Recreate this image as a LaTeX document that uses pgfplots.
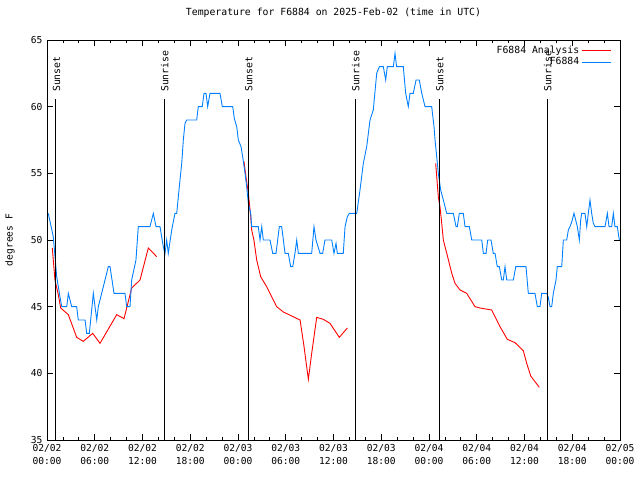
\documentclass[border=0pt]{standalone}
\usepackage{pgfplots}
\pgfplotsset{compat=1.18}
\usepackage{fontspec}
\setmainfont{DejaVu Sans Mono}
\definecolor{gblue}{RGB}{0,128,255}
\definecolor{gred}{RGB}{255,0,0}
\pgfplotstableread{
h v
0.67 49.4
0.79 48.5
1.00 47.0
1.42 45.9
1.72 44.9
2.68 44.4
3.73 42.7
4.56 42.4
5.74 43.0
6.66 42.25
8.76 44.4
9.68 44.1
10.64 46.4
11.69 47.0
12.73 49.4
13.79 48.75
}\redA
\pgfplotstableread{
h v
24.75 55.9
25.00 54.75
25.30 53.5
25.60 51.75
25.72 50.75
26.00 50.0
26.35 48.5
26.85 47.25
27.60 46.5
28.86 45.0
29.70 44.6
31.80 44.0
32.30 42.0
32.84 39.55
33.26 41.5
33.89 44.2
34.72 44.05
35.56 43.75
36.73 42.7
37.74 43.4
}\redB
\pgfplotstableread{
h v
48.84 55.75
49.17 53.25
49.38 52.5
49.60 51.25
49.80 50.0
50.23 49.0
50.86 47.5
51.27 46.75
51.90 46.25
52.74 46.0
53.78 45.0
54.41 44.9
55.88 44.75
56.93 43.5
57.84 42.55
58.81 42.3
59.85 41.7
60.28 40.75
60.78 39.8
61.86 38.95
}\redC
\pgfplotstableread{
h v
0.16 52
0.79 50.25
1.22 47.25
1.63 45.75
1.85 45
2.48 45
2.68 46
3.10 45
3.73 45
3.93 44
4.78 44
4.99 43
5.32 43
5.82 46
6.25 44
6.45 45
6.87 46
7.29 47
7.70 48
7.92 48
8.42 46
9.80 46
10.01 45
10.43 45
10.64 47
11.18 48.5
11.47 51
12.94 51
13.36 52
13.70 51
14.20 51
14.61 49.5
14.83 49
15.04 50
15.24 49
15.67 50.75
16.08 52
16.30 52
16.71 54.5
16.93 55.75
17.13 57.5
17.34 58.75
17.55 59
18.81 59
19.01 60
19.51 60
19.73 61
19.98 61
20.19 60
20.48 61
21.74 61
22.03 60
23.34 60
23.54 59.1
23.84 58.5
24.04 57.5
24.38 57
24.59 56.25
24.88 55
25.09 54
25.30 52.75
25.60 52
25.72 51
26.55 51
26.77 50
26.98 51
27.18 50
28.02 50
28.36 49
28.78 49
29.19 51
29.49 51
29.91 49
30.32 49
30.62 48
30.88 48
31.16 49
31.38 50
31.58 49
33.26 49
33.55 51
33.80 50
34.31 49
34.64 49
34.93 50
35.78 50
36.06 49
36.32 49.75
36.48 49
37.23 49
37.45 51
37.74 51.75
37.99 52
38.92 52
39.33 53.75
39.75 55.75
40.17 57
40.59 59
41.00 59.75
41.43 62.5
41.76 63
42.26 63
42.56 62
42.76 63
43.52 63
43.73 64
43.93 63
44.77 63
45.07 61
45.40 60
45.61 61
46.03 61
46.37 62
46.78 62
47.09 61
47.50 60
48.34 60
48.63 58.5
48.76 57.5
48.97 56.25
49.17 55
49.47 53.75
49.80 53
50.23 52
51.06 52
51.40 51
51.56 51
51.81 52
52.31 52
52.53 51
53.07 51
53.37 50
54.63 50
54.83 49
55.17 49
55.38 50
55.79 50
56.08 49
56.30 49
56.58 48
56.84 48
57.14 47
57.34 47
57.55 48
57.77 47
58.60 47
58.90 48
60.19 48
60.48 46
61.32 46
61.61 45
61.95 45
62.16 46
62.79 46
62.99 45.7
63.21 45
63.42 45
63.62 46
63.96 47
64.12 48
64.68 48
64.88 50
65.30 50
65.51 50.75
65.72 51
66.01 51.5
66.22 52
66.64 51
66.89 50
67.06 51.5
67.19 52
67.60 52
67.82 51
68.02 52
68.23 53
68.44 52
68.65 51.25
68.86 51
70.12 51
70.41 52
70.62 51
70.96 51
71.16 52
71.37 51
71.66 51
71.92 50
}\blue
\begin{document}
\begin{tikzpicture}[x=1pt,y=1pt]
\useasboundingbox (0,0) rectangle (640,480);
\begin{axis}[
  at={(47pt,40pt)}, anchor=south west,
  width=573pt, height=400pt, scale only axis,
  xmin=0, xmax=72, ymin=35, ymax=65,
  font=\fontsize{9.6}{12.6}\selectfont,
  /pgf/number format/assume math mode=true,
  xtick={0,6,...,72},
  xticklabels={{02/02\\00:00},{02/02\\06:00},{02/02\\12:00},{02/02\\18:00},{02/03\\00:00},{02/03\\06:00},{02/03\\12:00},{02/03\\18:00},{02/04\\00:00},{02/04\\06:00},{02/04\\12:00},{02/04\\18:00},{02/05\\00:00}},
  xticklabel style={align=center, yshift=-1pt},
  yticklabel style={xshift=-1pt},
  minor x tick num=2,
  ytick={35,40,...,65},
  tick align=inside,
  major tick length=6pt, minor tick length=3pt,
  tick style={black, line width=0.7pt},
  axis line style={black, line width=0.9pt},
  title={Temperature for F6884 on 2025-Feb-02 (time in UTC)},
  title style={at={(axis description cs:0.5,1.0525)}, anchor=center, font=\fontsize{9.8}{11}\selectfont},
  ylabel={degrees F},
  ylabel style={at={(axis description cs:-0.0646,0.5)}, anchor=center, rotate=0},
  legend style={at={(axis description cs:0.985,0.995)}, anchor=north east, draw=none, fill=none, font=\fontsize{9.8}{11}\selectfont, row sep=-1.5pt, inner xsep=0pt},
  legend cell align=right,
  legend plot pos=right,
  legend image code/.code={\draw[#1] (0pt,0pt) -- (29pt,0pt);},
  clip=false,
]
\addplot[gred, line width=0.9pt, forget plot] table[x=h,y=v] {\redA};
\addplot[gred, line width=0.9pt, forget plot] table[x=h,y=v] {\redB};
\addplot[gred, line width=0.9pt] table[x=h,y=v] {\redC};
\addlegendentry{F6884 Analysis}
\addplot[gblue, line width=0.9pt] table[x=h,y=v] {\blue};
\addlegendentry{F6884}
\foreach \t/\lab in {1.13/Sunset,14.74/Sunrise,25.3/Sunset,38.74/Sunrise,49.3/Sunset,62.87/Sunrise}{
  \edef\tmp{\noexpand\draw[black, line width=1pt] (axis cs:\t,60.55) -- (axis cs:\t,35);
  \noexpand\node[rotate=90, anchor=west, inner sep=0pt, yshift=-0.5pt, font=\noexpand\fontsize{9.8}{11}\noexpand\selectfont] at (axis cs:\t,61.1) {\lab};}
  \tmp
}
\end{axis}
\end{tikzpicture}
\end{document}
